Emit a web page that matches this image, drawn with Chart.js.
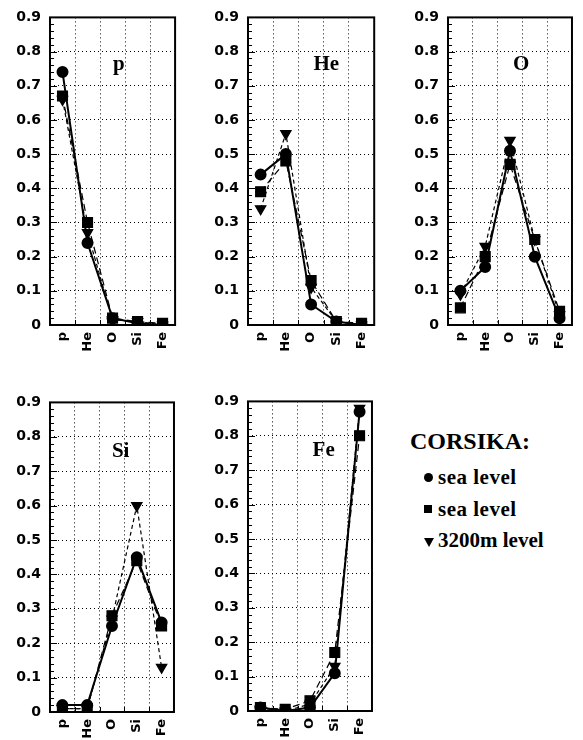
<!DOCTYPE html>
<html>
<head>
<meta charset="utf-8">
<script src="https://cdn.jsdelivr.net/npm/chart.js@4/dist/chart.umd.min.js"></script>
<style>
  html, body { margin: 0; padding: 0; background: #fff; }
  body { width: 583px; height: 740px; position: relative; overflow: hidden; }
  canvas { position: absolute; }
  .leg { position: absolute; font-family: "Liberation Serif", "Times New Roman", serif; font-weight: bold; color: #000; white-space: nowrap; }
  .mk { position: absolute; background: #000; }
</style>
</head>
<body>
<div class="leg" style="left:410px; top:429px; font-size:24px; line-height:24px;">CORSIKA:</div>
<div class="mk" style="left:424px; top:473px; width:9px; height:9px; border-radius:50%;"></div>
<div class="leg" style="left:438px; top:467px; font-size:21px; line-height:21px; letter-spacing:0.5px;">sea level</div>
<div class="mk" style="left:424px; top:505px; width:8px; height:8px;"></div>
<div class="leg" style="left:438px; top:499px; font-size:21px; line-height:21px; letter-spacing:0.5px;">sea level</div>
<div class="mk" style="left:424px; top:538px; width:0; height:0; background:none; border-left:5px solid transparent; border-right:5px solid transparent; border-top:9px solid #000;"></div>
<div class="leg" style="left:438px; top:530px; font-size:21px; line-height:21px;">3200m level</div>

<script>
// ---- data ----
const categories = ['p', 'He', 'O', 'Si', 'Fe'];
const yTickLabels = ['0', '0.1', '0.2', '0.3', '0.4', '0.5', '0.6', '0.7', '0.8', '0.9'];
const seriesNames = ['sea level (circles)', 'sea level (squares)', '3200m level'];
const panelTitles = ['p', 'He', 'O', 'Si', 'Fe'];

const pCircle   = [0.74, 0.24, 0.02, 0.005, 0.0];
const pSquare   = [0.67, 0.30, 0.02, 0.01, 0.005];
const pTriangle = [0.66, 0.27, 0.015, 0.01, 0.0];

const heCircle   = [0.44, 0.50, 0.06, 0.01, 0.0];
const heSquare   = [0.39, 0.48, 0.13, 0.01, 0.005];
const heTriangle = [0.34, 0.56, 0.11, 0.01, 0.0];

const oCircle   = [0.10, 0.17, 0.51, 0.20, 0.02];
const oSquare   = [0.05, 0.20, 0.47, 0.25, 0.04];
const oTriangle = [0.09, 0.23, 0.54, 0.25, 0.03];

const siCircle   = [0.02, 0.02, 0.25, 0.45, 0.26];
const siSquare   = [0.01, 0.01, 0.28, 0.44, 0.25];
const siTriangle = [0.01, 0.01, 0.27, 0.60, 0.13];

const feCircle   = [0.01, 0.0, 0.01, 0.11, 0.87];
const feSquare   = [0.01, 0.005, 0.03, 0.17, 0.80];
const feTriangle = [0.005, 0.0, 0.02, 0.13, 0.88];

// ---- layout (plot areas in page pixels) ----
const panels = [
  { title: panelTitles[0], data: [pCircle, pSquare, pTriangle],   area: { l: 50,  t: 12,  r: 178, b: 325 }, tx: 0.55, ty: 53 },
  { title: panelTitles[1], data: [heCircle, heSquare, heTriangle], area: { l: 248, t: 12,  r: 377, b: 325 }, tx: 0.62, ty: 53 },
  { title: panelTitles[2], data: [oCircle, oSquare, oTriangle],   area: { l: 448, t: 12,  r: 575, b: 325 }, tx: 0.59, ty: 53 },
  { title: panelTitles[3], data: [siCircle, siSquare, siTriangle], area: { l: 50,  t: 397, r: 177, b: 712 }, tx: 0.57, ty: 55 },
  { title: panelTitles[4], data: [feCircle, feSquare, feTriangle], area: { l: 248, t: 396, r: 375, b: 711 }, tx: 0.61, ty: 55 }
];

const Y_AXIS_W = 50, X_AXIS_H = 45, PAD_T = 12, PAD_R = 8;

const framePlugin = {
  id: 'frame',
  afterDraw(chart, args, opts) {
    const ctx = chart.ctx, a = chart.chartArea, y = chart.scales.y, x = chart.scales.x;
    ctx.save();
    ctx.strokeStyle = '#000';
    ctx.lineWidth = 1;
    ctx.beginPath();
    for (let k = 0; k <= 45; k++) {
      const v = k * 0.02;
      const py = Math.round(y.getPixelForValue(v)) + 0.5;
      const len = (k % 5 === 0) ? 7 : 4;
      ctx.moveTo(a.left, py); ctx.lineTo(a.left + len, py);
    }
    for (let i = 0; i < categories.length - 1; i++) {
      const px = Math.round(x.getPixelForValue(i + 0.5)) + 0.5;
      ctx.moveTo(px, a.bottom); ctx.lineTo(px, a.bottom - 5);
    }
    ctx.stroke();
    ctx.lineWidth = 2;
    ctx.strokeRect(a.left, a.top, a.right - a.left, a.bottom - a.top);
    ctx.fillStyle = '#000';
    ctx.font = 'bold 21px "Liberation Serif", "Times New Roman", serif';
    ctx.textAlign = 'center';
    ctx.textBaseline = 'alphabetic';
    ctx.fillText(opts.title, a.left + opts.tx * (a.right - a.left), a.top + opts.ty);
    ctx.restore();
  }
};

panels.forEach((p) => {
  const c = document.createElement('canvas');
  const w = (p.area.r - p.area.l) + Y_AXIS_W + PAD_R;
  const h = (p.area.b - p.area.t) + PAD_T + X_AXIS_H;
  c.width = w; c.height = h;
  c.style.width = w + 'px'; c.style.height = h + 'px';
  c.style.left = (p.area.l - Y_AXIS_W) + 'px';
  c.style.top = (p.area.t - PAD_T) + 'px';
  document.body.appendChild(c);

  new Chart(c, {
    type: 'line',
    data: {
      labels: categories,
      datasets: [
        { label: seriesNames[0], data: p.data[0], borderColor: '#000', backgroundColor: '#000', borderWidth: 2,
          pointStyle: 'circle', pointRadius: 5, tension: 0 },
        { label: seriesNames[1], data: p.data[1], borderColor: '#000', backgroundColor: '#000', borderWidth: 1.2,
          borderDash: [7, 4], pointStyle: 'rect', pointRadius: 7, tension: 0 },
        { label: seriesNames[2], data: p.data[2], borderColor: '#000', backgroundColor: '#000', borderWidth: 1.2,
          borderDash: [4, 3], pointStyle: 'triangle', pointRotation: 180, pointRadius: 6, tension: 0 }
      ]
    },
    options: {
      responsive: false,
      animation: false,
      devicePixelRatio: 1,
      layout: { padding: { top: PAD_T, right: PAD_R, left: 0, bottom: 0 } },
      plugins: {
        legend: { display: false },
        tooltip: { enabled: false },
        frame: { title: p.title, tx: p.tx, ty: p.ty }
      },
      scales: {
        x: {
          type: 'category',
          offset: true,
          afterFit(s) { s.height = X_AXIS_H; },
          grid: { offset: true, color: '#000', lineWidth: 1, drawTicks: false },
          border: { display: false, dash: [1, 3] },
          ticks: {
            color: '#000', padding: 7, minRotation: 90, maxRotation: 90, autoSkip: false,
            font: { family: '"DejaVu Sans", sans-serif', weight: 'bold', size: 13 }
          }
        },
        y: {
          min: 0, max: 0.9,
          afterFit(s) { s.width = Y_AXIS_W; },
          grid: { color: '#000', lineWidth: 1, drawTicks: false },
          border: { display: false, dash: [1, 3] },
          ticks: {
            stepSize: 0.1, color: '#000', padding: 9,
            font: { family: '"DejaVu Sans", sans-serif', weight: 'bold', size: 14 },
            callback: (v, i) => yTickLabels[i]
          }
        }
      }
    },
    plugins: [framePlugin]
  });
});
</script>
</body>
</html>
